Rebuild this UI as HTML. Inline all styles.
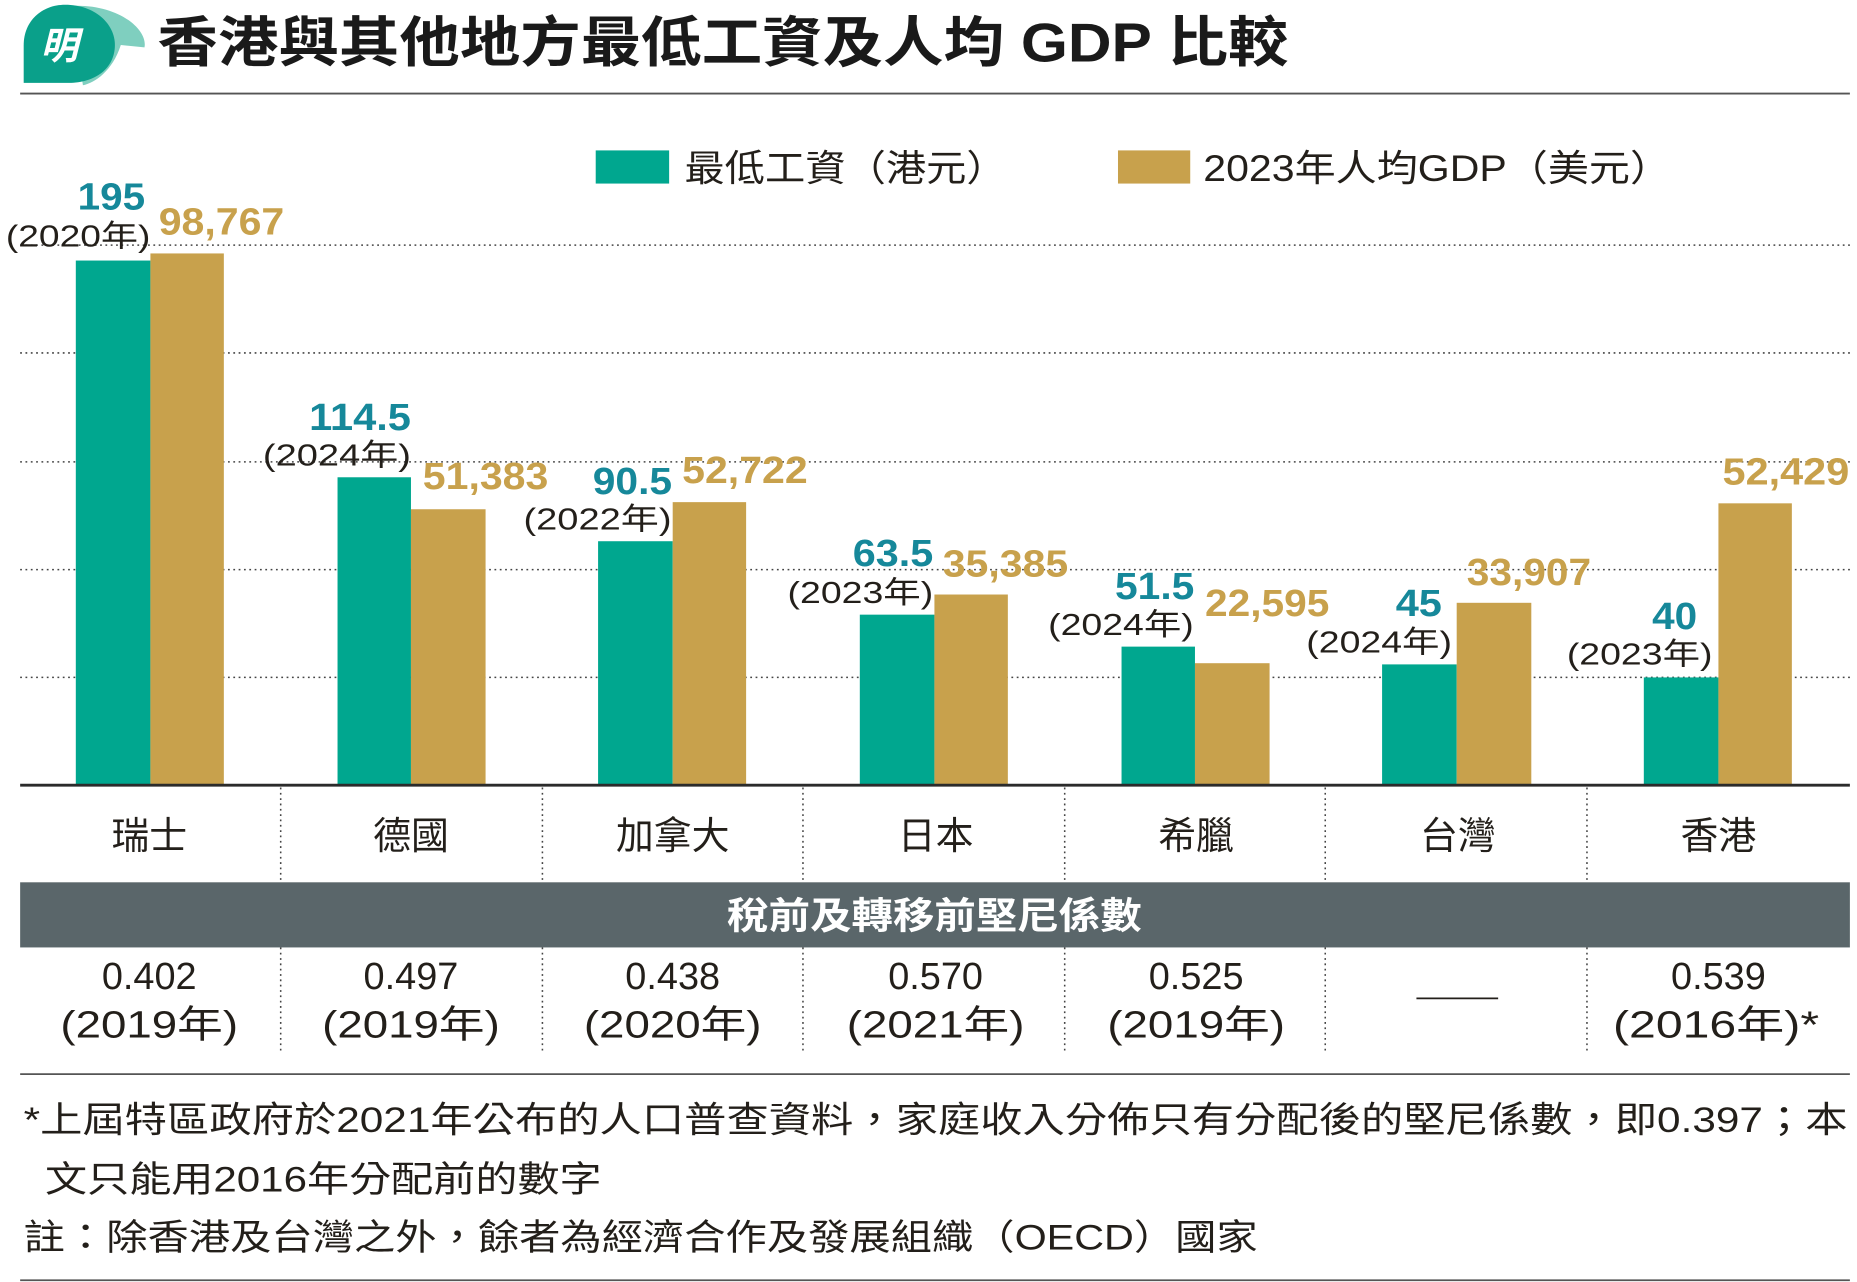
<!DOCTYPE html>
<html><head><meta charset="utf-8"><style>
html,body{margin:0;padding:0;background:#fff;}
svg{display:block;}
text{font-family:"Liberation Sans","Noto Sans CJK TC",sans-serif;}
.c{font-family:"Liberation Sans","Noto Sans CJK TC",sans-serif;}
</style></head><body>
<svg width="1857" height="1282" viewBox="0 0 1568 1082.5" xmlns="http://www.w3.org/2000/svg">
<rect width="1568" height="1083" fill="#fff"/>
<!-- logo -->
<path d="M60 5 C100 3 125 25 122 40 L102 38 C95 60 80 70 70 72 Z" fill="#7fcfbf"/>
<path d="M55 4 C80 4 97 20 97 38 C97 58 80 70 58 70 L20 70 L20 38 C20 18 35 4 55 4 Z" fill="#0aa08a"/>
<text x="50" y="50" font-size="32" font-weight="bold" fill="#fff" text-anchor="middle" font-style="italic">明</text>
<text x="133" y="52" font-size="46" font-weight="bold" fill="#1a1a1a" textLength="955" lengthAdjust="spacingAndGlyphs">香港與其他地方最低工資及人均 GDP 比較</text>
<line x1="17" y1="79" x2="1562" y2="79" stroke="#555" stroke-width="1.5"/>
<!-- legend -->
<rect x="503" y="127" width="62" height="28" fill="#00a78f"/>
<text x="578" y="153" font-size="31" fill="#231f1a" textLength="272" lengthAdjust="spacingAndGlyphs">最低工資（港元）</text>
<rect x="944" y="127" width="61" height="28" fill="#c8a14c"/>
<text x="1016" y="153" font-size="31" fill="#231f1a" textLength="395" lengthAdjust="spacingAndGlyphs">2023年人均GDP（美元）</text>
<!-- grid -->
<g stroke="#444" stroke-width="1.3" stroke-dasharray="1.5 3">
<line x1="17" y1="207" x2="1562" y2="207"/>
<line x1="17" y1="298" x2="1562" y2="298"/>
<line x1="17" y1="390" x2="1562" y2="390"/>
<line x1="17" y1="481" x2="1562" y2="481"/>
<line x1="17" y1="572" x2="1562" y2="572"/>
<line x1="237" y1="665" x2="237" y2="745"/><line x1="458" y1="665" x2="458" y2="745"/><line x1="678" y1="665" x2="678" y2="745"/><line x1="899" y1="665" x2="899" y2="745"/><line x1="1119" y1="665" x2="1119" y2="745"/><line x1="1340" y1="665" x2="1340" y2="745"/>
<line x1="237" y1="800" x2="237" y2="887"/><line x1="458" y1="800" x2="458" y2="887"/><line x1="678" y1="800" x2="678" y2="887"/><line x1="899" y1="800" x2="899" y2="887"/><line x1="1119" y1="800" x2="1119" y2="887"/><line x1="1340" y1="800" x2="1340" y2="887"/>
</g>
<!-- bars -->
<g fill="#00a78f">
<rect x="64" y="220" width="63" height="443"/>
<rect x="285" y="403" width="62" height="260"/>
<rect x="505" y="457" width="63" height="206"/>
<rect x="726" y="519" width="63" height="144"/>
<rect x="947" y="546" width="62" height="117"/>
<rect x="1167" y="561" width="63" height="102"/>
<rect x="1388" y="572" width="63" height="91"/>
</g>
<g fill="#c8a14c">
<rect x="127" y="214" width="62" height="449"/>
<rect x="347" y="430" width="63" height="233"/>
<rect x="568" y="424" width="62" height="239"/>
<rect x="789" y="502" width="62" height="161"/>
<rect x="1009" y="560" width="63" height="103"/>
<rect x="1230" y="509" width="63" height="154"/>
<rect x="1451" y="425" width="62" height="238"/>
</g>
<line x1="17" y1="663" x2="1562" y2="663" stroke="#2b2b2b" stroke-width="2.5"/>
<!-- value labels -->
<g font-size="32" font-weight="bold" fill="#16889a" text-anchor="middle">
<text x="94" y="177" textLength="57" lengthAdjust="spacingAndGlyphs">195</text>
<text x="304" y="363" textLength="86" lengthAdjust="spacingAndGlyphs">114.5</text>
<text x="534" y="417" textLength="67" lengthAdjust="spacingAndGlyphs">90.5</text>
<text x="754" y="478" textLength="68" lengthAdjust="spacingAndGlyphs">63.5</text>
<text x="975" y="506" textLength="67" lengthAdjust="spacingAndGlyphs">51.5</text>
<text x="1198" y="520" textLength="39" lengthAdjust="spacingAndGlyphs">45</text>
<text x="1414" y="531" textLength="38" lengthAdjust="spacingAndGlyphs">40</text>
</g>
<g font-size="32" font-weight="bold" fill="#c8a14c" text-anchor="middle">
<text x="187" y="198" textLength="106" lengthAdjust="spacingAndGlyphs">98,767</text>
<text x="410" y="413" textLength="106" lengthAdjust="spacingAndGlyphs">51,383</text>
<text x="629" y="408" textLength="106" lengthAdjust="spacingAndGlyphs">52,722</text>
<text x="849" y="487" textLength="106" lengthAdjust="spacingAndGlyphs">35,385</text>
<text x="1070" y="520" textLength="105" lengthAdjust="spacingAndGlyphs">22,595</text>
<text x="1291" y="494" textLength="105" lengthAdjust="spacingAndGlyphs">33,907</text>
<text x="1508" y="409" textLength="107" lengthAdjust="spacingAndGlyphs">52,429</text>
</g>
<g font-size="26" fill="#231f1a">
<text x="5" y="208" textLength="122" lengthAdjust="spacingAndGlyphs">(2020年)</text>
<text x="222" y="393" textLength="125" lengthAdjust="spacingAndGlyphs">(2024年)</text>
<text x="442" y="447" textLength="125" lengthAdjust="spacingAndGlyphs">(2022年)</text>
<text x="665" y="509" textLength="123" lengthAdjust="spacingAndGlyphs">(2023年)</text>
<text x="885" y="536" textLength="123" lengthAdjust="spacingAndGlyphs">(2024年)</text>
<text x="1103" y="551" textLength="123" lengthAdjust="spacingAndGlyphs">(2024年)</text>
<text x="1323" y="561" textLength="123" lengthAdjust="spacingAndGlyphs">(2023年)</text>
</g>
<!-- countries -->
<g font-size="32" fill="#231f1a" text-anchor="middle">
<text x="126" y="717">瑞士</text>
<text x="347" y="717">德國</text>
<text x="568" y="717">加拿大</text>
<text x="790" y="717">日本</text>
<text x="1010" y="717">希臘</text>
<text x="1231" y="717">台灣</text>
<text x="1451" y="717">香港</text>
</g>
<rect x="17" y="745" width="1545" height="55" fill="#5a666a"/>
<text x="789" y="784" font-size="31" font-weight="bold" fill="#fff" text-anchor="middle" textLength="350" lengthAdjust="spacingAndGlyphs">稅前及轉移前堅尼係數</text>
<g font-size="32" fill="#231f1a" text-anchor="middle">
<text x="126" y="835">0.402</text><text x="126" y="876" textLength="150" lengthAdjust="spacingAndGlyphs">(2019年)</text>
<text x="347" y="835">0.497</text><text x="347" y="876" textLength="150" lengthAdjust="spacingAndGlyphs">(2019年)</text>
<text x="568" y="835">0.438</text><text x="568" y="876" textLength="150" lengthAdjust="spacingAndGlyphs">(2020年)</text>
<text x="790" y="835">0.570</text><text x="790" y="876" textLength="150" lengthAdjust="spacingAndGlyphs">(2021年)</text>
<text x="1010" y="835">0.525</text><text x="1010" y="876" textLength="150" lengthAdjust="spacingAndGlyphs">(2019年)</text>
<text x="1451" y="835">0.539</text><text x="1362" y="876" text-anchor="start" textLength="174" lengthAdjust="spacingAndGlyphs">(2016年)*</text>
</g>
<line x1="1196" y1="843" x2="1265" y2="843" stroke="#231f1a" stroke-width="1.5"/>
<line x1="17" y1="907" x2="1562" y2="907" stroke="#555" stroke-width="1.5"/>
<g font-size="30" fill="#231f1a">
<text x="20" y="956" textLength="1540" lengthAdjust="spacingAndGlyphs">*上屆特區政府於2021年公布的人口普查資料，家庭收入分佈只有分配後的堅尼係數，即0.397；本</text>
<text x="38" y="1006" textLength="470" lengthAdjust="spacingAndGlyphs">文只能用2016年分配前的數字</text>
<text x="20" y="1055" textLength="1042" lengthAdjust="spacingAndGlyphs">註：除香港及台灣之外，餘者為經濟合作及發展組織（OECD）國家</text>
</g>
<line x1="17" y1="1081" x2="1562" y2="1081" stroke="#555" stroke-width="1.5"/>
</svg>
</body></html>
